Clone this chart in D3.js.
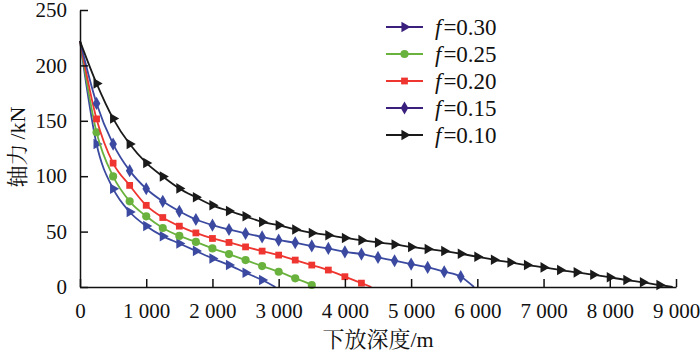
<!DOCTYPE html>
<html>
<head>
<meta charset="utf-8">
<script src="https://cdn.jsdelivr.net/npm/d3@7"></script>
</head>
<body style="margin:0; background:#fff">
<div id="container"></div>
<script>
/* CONSTANTS AND GLOBALS */
const width = 700,
  height = 353,
  margin = { top: 10, bottom: 66, left: 80, right: 24 };

const latin = "Liberation Serif";
const cjk = "Noto Serif CJK SC";

// depth step between points (m)
const step = 250;

// axial force (kN) every 250 m
const f030 = [222, 129, 88.7, 67.7, 55.1, 45.9, 39.3, 32.6, 25.8, 19.8, 12.9, 6.3];
const f025 = [222, 139.7, 99.8, 77.3, 63.8, 53.3, 46.1, 40.7, 34.8, 29.7, 24.3, 18.9, 13.8, 7.8, 1.8];
const f020 = [222, 151.7, 111.8, 91.7, 73.7, 62.7, 54.9, 48.8, 43.8, 40.2, 36.2, 32.4, 28.8, 24.3, 19.8, 15.3, 9.3, 3.5];
const f015 = [222, 165.7, 129, 105, 88.7, 77.3, 68.3, 60.9, 55.8, 51.9, 48.3, 45.2, 42.3, 39.9, 37.1, 34.8, 31.7, 29.7, 26.7, 23.7, 20.7, 17.7, 13.8, 9.3];
const f010 = [222, 183.7, 152, 129, 112, 99.8, 89, 81, 73.7, 68.6, 63.8, 58.7, 55.8, 51.9, 48.8, 46.8, 44.3, 42.3, 40.2, 38.4, 36.2, 34.2, 32.4, 30, 27.3, 24.5, 22.2, 19.8, 17.7, 15.3, 13.2, 11.1, 8.7, 6.3, 4.2, 1.8];

// depth where each curve reaches zero
const endDepth = [2950, 3550, 4400, 5950, 8950];

const seriesNames = ["0.30", "0.25", "0.20", "0.15", "0.10"];
const seriesValues = [f030, f025, f020, f015, f010];
const lineColors = ["#3b4aa0", "#6ab23e", "#ee3530", "#3b4aa0", "#1a1a1a"];
const legendColors = ["#3a1f7c", "#6ab23e", "#ee3530", "#3a1f7c", "#1a1a1a"];
const shapes = ["triangle", "circle", "square", "diamond", "triangle"];

const xTicks = [0, 1000, 2000, 3000, 4000, 5000, 6000, 7000, 8000, 9000];
const xTickLabels = ["0", "1 000", "2 000", "3 000", "4 000", "5 000", "6 000", "7 000", "8 000", "9 000"];
const yTicks = [0, 50, 100, 150, 200, 250];

const series = seriesNames.map((name, i) => {
  const pts = seriesValues[i].map((v, j) => ({ x: j * step, y: v }));
  pts.push({ x: endDepth[i], y: 0 });
  return { name, pts, color: lineColors[i], legendColor: legendColors[i], shape: shapes[i] };
});

/* SCALES */
const xScale = d3.scaleLinear().domain([0, 9000]).range([margin.left, width - margin.right]);
const yScale = d3.scaleLinear().domain([0, 250]).range([height - margin.bottom, margin.top]);

const svg = d3.select("#container")
  .append("svg")
  .attr("width", width)
  .attr("height", height);

function symbolPath(shape) {
  if (shape === "circle") return d3.symbol(d3.symbolCircle, 52)();
  if (shape === "square") return d3.symbol(d3.symbolSquare, 46)();
  if (shape === "diamond") return d3.symbol(d3.symbolDiamond, 50)();
  return d3.symbol(d3.symbolTriangle, 48)();
}

// lines
const line = d3.line()
  .x(d => xScale(d.x))
  .y(d => yScale(d.y))
  .curve(d3.curveMonotoneX);

series.forEach(s => {
  svg.append("path")
    .attr("d", line(s.pts))
    .attr("fill", "none")
    .attr("stroke", s.color)
    .attr("stroke-width", 1.8);

  // markers skip the start and the zero end point
  svg.selectAll(null)
    .data(s.pts.slice(1, -1))
    .join("path")
    .attr("d", symbolPath(s.shape))
    .attr("transform", d => `translate(${xScale(d.x)},${yScale(d.y)})` + (s.shape === "triangle" ? " rotate(90)" : ""))
    .attr("fill", s.color);
});

// axes
const xAxis = svg.append("g")
  .attr("transform", `translate(0, ${height - margin.bottom})`)
  .call(d3.axisBottom(xScale).tickValues(xTicks).tickSizeInner(-8).tickSizeOuter(0)
    .tickFormat((d, i) => xTickLabels[i]));
xAxis.selectAll("text")
  .attr("y", 16).attr("dy", "0.71em")
  .attr("font-family", latin).attr("font-size", 21).attr("fill", "#111");

const yAxis = svg.append("g")
  .attr("transform", `translate(${margin.left}, 0)`)
  .call(d3.axisLeft(yScale).tickValues(yTicks).tickSizeInner(-8).tickSizeOuter(0));
yAxis.selectAll("text")
  .attr("x", -13)
  .attr("font-family", latin).attr("font-size", 21).attr("fill", "#111");

svg.selectAll(".domain, .tick line").attr("stroke", "#111").attr("stroke-width", 1.5);

// axis titles, CJK and latin parts in their own fonts
const xTitle = svg.append("text")
  .attr("x", 378)
  .attr("y", 347)
  .attr("text-anchor", "middle")
  .attr("font-size", 22)
  .attr("fill", "#111");
xTitle.append("tspan").attr("font-family", cjk).text("下放深度");
xTitle.append("tspan").attr("font-family", latin).text("/m");

const yTitle = svg.append("text")
  .attr("transform", "translate(25, 147) rotate(-90)")
  .attr("text-anchor", "middle")
  .attr("font-size", 22)
  .attr("fill", "#111");
yTitle.append("tspan").attr("font-family", cjk).text("轴力");
yTitle.append("tspan").attr("font-family", latin).attr("dx", 4).text("/kN");

// legend
const legend = svg.append("g");
series.forEach((s, i) => {
  const yy = 27 + i * 27;
  legend.append("line")
    .attr("x1", 386).attr("x2", 423)
    .attr("y1", yy).attr("y2", yy)
    .attr("stroke", s.legendColor)
    .attr("stroke-width", 1.8);
  legend.append("path")
    .attr("d", symbolPath(s.shape))
    .attr("transform", `translate(404.5,${yy})` + (s.shape === "triangle" ? " rotate(90)" : ""))
    .attr("fill", s.legendColor);
  const t = legend.append("text")
    .attr("x", 435)
    .attr("y", yy)
    .attr("dy", "0.35em")
    .attr("font-family", latin)
    .attr("font-size", 23)
    .attr("fill", "#111");
  t.append("tspan").attr("font-style", "italic").text("f");
  t.append("tspan").attr("dx", 2).text("=" + s.name);
});
</script>
</body>
</html>
